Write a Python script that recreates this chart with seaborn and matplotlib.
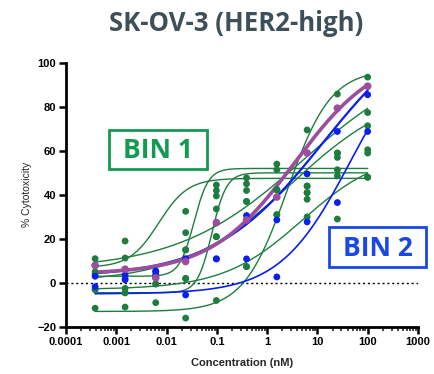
import numpy as np
import pandas as pd
import matplotlib
matplotlib.use("Agg")
import matplotlib.pyplot as plt
import matplotlib.ticker as mticker
from matplotlib.patches import Rectangle
import seaborn as sns

# 4-fold serial dilution, nM
conc = [0.00038, 0.0015, 0.0061, 0.024, 0.098, 0.39, 1.5625, 6.25, 25.0, 100.0]

# % cytotoxicity per antibody (BIN 1 = green, BIN 2 = blue, reference = purple)
g1 = [-11.5, -11.0, -9.0, -16.0, -8.0, 7.4, 31.0, 69.5, 85.8, 93.5]
g2 = [11.0, 19.0, 5.0, 22.8, 33.6, 37.0, 42.3, 44.0, 59.0, 77.4]
g3 = [5.0, -2.5, 3.0, 15.0, 21.0, 37.0, 42.3, 41.0, 57.0, 71.4]
g4 = [4.0, 2.0, 3.0, 15.0, 44.5, 47.7, 54.0, 44.0, 59.0, 60.5]
g5 = [-3.0, -4.5, -0.5, 2.0, 39.5, 45.0, 51.4, 41.0, 51.4, 59.0]
g6 = [8.0, 11.3, 5.0, 32.5, 42.0, 42.0, 42.3, 38.0, 48.6, 48.0]
g7 = [-3.0, -4.5, -0.5, 2.0, 21.0, 7.4, 31.0, 30.0, 29.0, 48.0]
b1 = [3.0, 3.6, 5.4, 11.0, 10.9, 30.6, 28.6, 49.5, 68.8, 85.5]
b2 = [-1.7, 1.4, 3.6, -5.5, 10.9, 10.9, 2.7, 27.7, 36.5, 68.8]
p1 = [7.9, 6.2, 2.3, 9.7, 27.4, 28.6, 39.0, 59.0, 79.4, 89.4]

# four-parameter logistic fits: bottom, top, EC50 (nM), Hill slope
fit_g1 = [-13.0, 97.0, 2.5, 1.0]
fit_g2 = [6.0, 105.0, 5.0, 0.35]
fit_g3 = [0.0, 90.0, 3.0, 0.40]
fit_g4 = [3.0, 52.0, 0.035, 3.0]
fit_g5 = [-4.5, 50.0, 0.08, 3.0]
fit_g6 = [7.0, 47.5, 0.007, 1.5]
fit_g7 = [-3.0, 60.0, 5.0, 0.55]
fit_b1 = [2.5, 125.0, 13.0, 0.40]
fit_b2 = [-5.0, 115.0, 45.0, 0.62]
fit_p1 = [4.0, 105.0, 3.5, 0.52]

GREEN = "#1e7d3e"
BLUE = "#0a1ef2"
PURPLE = "#9b4e9e"

series = [
    ("g1", g1, fit_g1, GREEN), ("g2", g2, fit_g2, GREEN), ("g3", g3, fit_g3, GREEN),
    ("g4", g4, fit_g4, GREEN), ("g5", g5, fit_g5, GREEN), ("g6", g6, fit_g6, GREEN),
    ("g7", g7, fit_g7, GREEN), ("b2", b2, fit_b2, BLUE), ("b1", b1, fit_b1, BLUE),
    ("p1", p1, fit_p1, PURPLE),
]


def four_pl(x, bottom, top, ec50, hill):
    return bottom + (top - bottom) / (1.0 + (ec50 / x) ** hill)


pts_rows, fit_rows = [], []
xs = np.logspace(np.log10(conc[0]), np.log10(conc[-1]), 300)
for name, vals, fit, _ in series:
    for c, v in zip(conc, vals):
        pts_rows.append({"ab": name, "conc": c, "cyto": v})
    for xv, yv in zip(xs, four_pl(xs, *fit)):
        fit_rows.append({"ab": name, "conc": xv, "cyto": yv})
pts = pd.DataFrame(pts_rows)
fits = pd.DataFrame(fit_rows)

sns.set_style("white")
plt.rcParams["font.family"] = ["Liberation Sans", "DejaVu Sans"]

fig = plt.figure(figsize=(4.34, 3.74), dpi=100)
ax = fig.add_axes([0.152, 0.126, 0.811, 0.706])

lw = {"p1": 2.6, "b1": 1.6, "b2": 1.2}
for name, _, _, col in series:
    sub = fits[fits["ab"] == name]
    sns.lineplot(data=sub, x="conc", y="cyto", color=col, lw=lw.get(name, 1.0),
                 ax=ax, legend=False, zorder=3 if name != "p1" else 4)
for name, _, _, col in series:
    sub = pts[pts["ab"] == name]
    sns.scatterplot(data=sub, x="conc", y="cyto", color=col, s=30 if name == "p1" else 24,
                    edgecolor="none", ax=ax, legend=False, zorder=5)

ax.axhline(0, color="black", lw=1.0, ls=(0, (1.5, 2)), zorder=2)

ax.set_xscale("log")
ax.set_xlim(0.0001, 1000)
ax.set_ylim(-20, 100)
ax.set_yticks([-20, 0, 20, 40, 60, 80, 100])
ax.xaxis.set_major_locator(mticker.LogLocator(base=10, numticks=10))
ax.xaxis.set_minor_locator(mticker.LogLocator(base=10, subs=np.arange(2, 10), numticks=100))
ax.xaxis.set_major_formatter(mticker.FuncFormatter(lambda v, p: f"{v:g}"))
ax.xaxis.set_minor_formatter(mticker.NullFormatter())

for side in ("top", "right"):
    ax.spines[side].set_visible(False)
for side in ("left", "bottom"):
    ax.spines[side].set_linewidth(2.0)
    ax.spines[side].set_color("black")

ax.tick_params(axis="both", which="major", direction="out", length=5, width=1.8,
               labelsize=8, colors="black", pad=2, bottom=True, left=True)
ax.tick_params(axis="x", which="minor", direction="out", length=3, width=1.2, bottom=True)
for lab in ax.get_xticklabels() + ax.get_yticklabels():
    lab.set_fontweight("bold")

ax.set_xlabel("Concentration (nM)", fontsize=8, fontweight="bold", labelpad=8)
ax.set_ylabel("% Cytotoxicity", fontsize=7.5, labelpad=4)

fig.text(0.545, 0.937, "SK-OV-3 (HER2-high)", ha="center", va="center",
         fontsize=18.5, fontweight="bold", color="#3d5059", family=["Open Sans", "DejaVu Sans"])

# bin labels in framed boxes
for (x0, y0, w, h, label, col) in [
    (0.251, 0.548, 0.226, 0.104, "BIN 1", "#119a50"),
    (0.758, 0.286, 0.2235, 0.107, "BIN 2", "#1848e8"),
]:
    fig.patches.append(Rectangle((x0, y0), w, h, transform=fig.transFigure,
                                 fc="white", ec=col, lw=2.0, zorder=6))
    fig.text(x0 + w / 2, y0 + h / 2 - 0.003, label, ha="center", va="center",
             fontsize=19, fontweight="bold", color=col, zorder=7,
             family=["Open Sans", "DejaVu Sans"])

fig.savefig("out.png", dpi=100)
